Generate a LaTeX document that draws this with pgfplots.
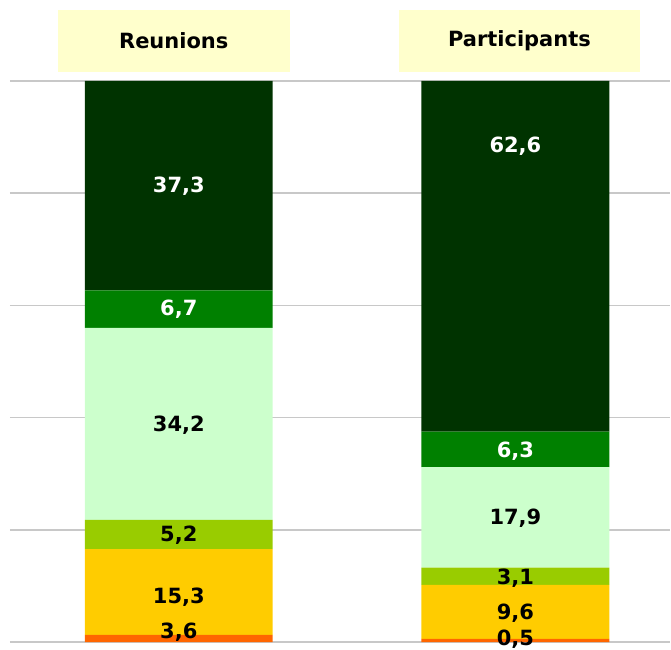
\documentclass[border=0pt]{standalone}
\usepackage{fontspec}
\setmainfont{DejaVu Sans}
\usepackage{pgfplots}
\pgfplotsset{compat=1.18}
\definecolor{cOr}{HTML}{FF6600}
\definecolor{cYe}{HTML}{FFCC00}
\definecolor{cLi}{HTML}{99CC00}
\definecolor{cLg}{HTML}{CCFFCC}
\definecolor{cGr}{HTML}{008000}
\definecolor{cDk}{HTML}{003300}
\definecolor{cHd}{HTML}{FFFFCC}
\definecolor{cGrid}{HTML}{C8C8C8}
\pgfplotsset{base/.style={
  scale only axis,
  width=661bp, height=562bp,
  xmin=-0.5015, xmax=1.46,
  ymin=0, ymax=100,
  axis line style={draw=none},
  tick style={draw=none},
  xtick=\empty,
  ytick={0,20,40,60,80,100},
  yticklabels={},
  clip=false,
}}
\begin{document}
\begin{tikzpicture}
\begin{axis}[base,
  ybar stacked,
  bar width=0.558,
  ymajorgrids,
  grid style={cGrid, line width=1.6bp},
]
\addplot[fill=cOr, draw=none] coordinates {(0,1.3) (1,0.6)};
\addplot[fill=cYe, draw=none] coordinates {(0,15.3) (1,9.6)};
\addplot[fill=cLi, draw=none] coordinates {(0,5.2) (1,3.1)};
\addplot[fill=cLg, draw=none] coordinates {(0,34.2) (1,17.9)};
\addplot[fill=cGr, draw=none] coordinates {(0,6.7) (1,6.3)};
\addplot[fill=cDk, draw=none] coordinates {(0,37.3) (1,62.5)};
\coordinate (ll) at (rel axis cs:0,0);
\coordinate (ur) at (rel axis cs:1,1);
\end{axis}
\begin{axis}[base,
  nodes near coords,
  point meta=explicit symbolic,
  nodes near coords align={center},
  every node near coord/.append style={font=\fontsize{21bp}{23bp}\selectfont\bfseries, inner sep=0pt, anchor=center},
]
\addplot[only marks, mark=none, black, every node near coord/.append style={text=black}] table[meta=l] {
x y l
0 1.8 3,6
0 8.0 15,3
0 19.1 5,2
0 38.7 34,2
1 0.6 0,5
1 5.2 9,6
1 11.4 3,1
1 22.1 17,9
};
\addplot[only marks, mark=none, white, every node near coord/.append style={text=white}] table[meta=l] {
x y l
0 59.3 6,7
0 81.3 37,3
1 34.1 6,3
1 88.4 62,6
};
\node[fill=cHd, minimum width=232bp, minimum height=62bp, inner sep=0pt,
  font=\fontsize{21bp}{23bp}\selectfont\bfseries] at (axis cs:-0.015,107.1) {Reunions};
\node[fill=cHd, minimum width=242bp, minimum height=62bp, inner sep=0pt,
  font=\fontsize{21bp}{23bp}\selectfont\bfseries] at (axis cs:1.012,107.1) {Participants};
\end{axis}
\path[use as bounding box] ([xshift=-10bp,yshift=-7bp]ll) rectangle ([yshift=81bp]ur);
\end{tikzpicture}
\end{document}
